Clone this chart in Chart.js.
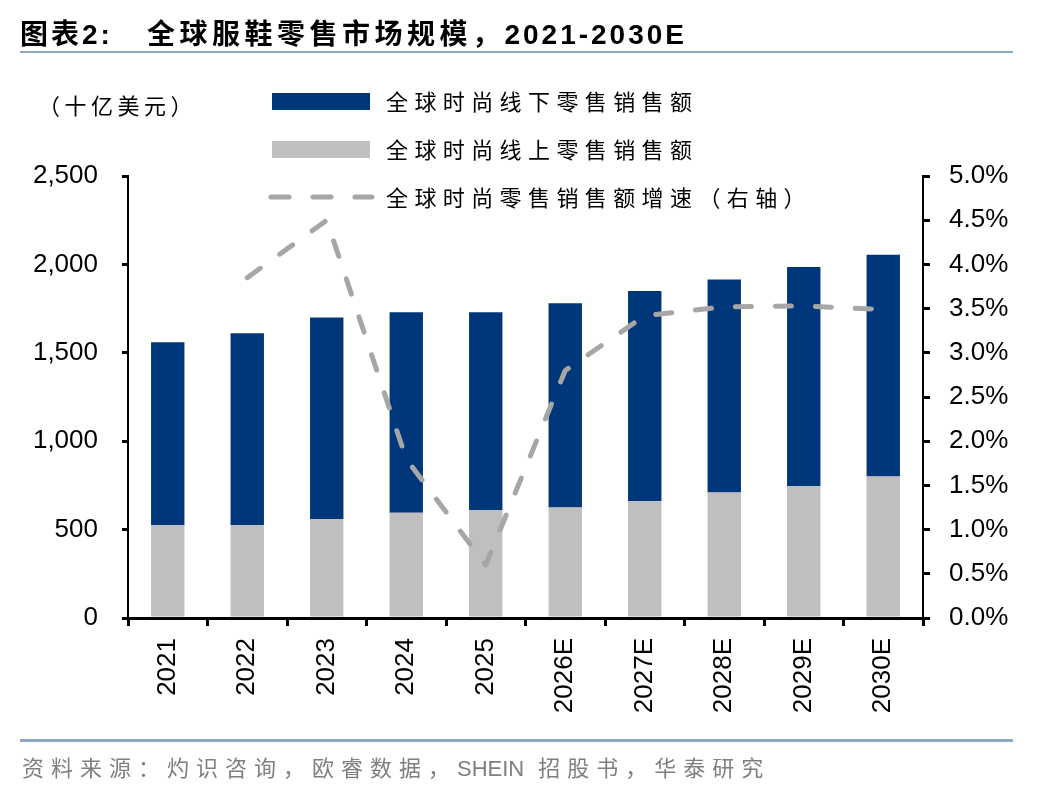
<!DOCTYPE html>
<html>
<head>
<meta charset="utf-8">
<script src="https://cdn.jsdelivr.net/npm/chart.js@4.4.1/dist/chart.umd.min.js"></script>
<style>
  html, body { margin: 0; padding: 0; background: #fff; }
  #wrap { position: relative; width: 1048px; height: 792px; overflow: hidden; }
  #chart { position: absolute; left: 0; top: 0; }
  .title {
    position: absolute; left: 20px; top: 12px; white-space: nowrap;
    font: bold 28px "Liberation Sans", "Noto Sans CJK SC", sans-serif;
    letter-spacing: 3px; color: #000;
  }
  .title .main { margin-left: 34px; }
  .title .cjk { letter-spacing: 4.5px; }
  .rule { position: absolute; left: 20px; width: 993px; background: #8fa8c4; }
  .unit {
    position: absolute; left: 38px; top: 88px; white-space: nowrap;
    font: 22px "Noto Sans CJK SC", sans-serif; letter-spacing: 4.5px; color: #000;
  }
  .source {
    position: absolute; left: 22px; top: 750px; white-space: nowrap;
    font: 22px "Liberation Sans", "Noto Sans CJK SC", sans-serif;
    letter-spacing: 7px; color: #7f7f7f;
  }
  .source .latin { letter-spacing: 0; margin-right: 14px; }
</style>
</head>
<body>
<div id="wrap">
  <canvas id="chart" width="1048" height="792"></canvas>
  <div class="title"><span>图表2:</span><span class="main"><span class="cjk">全球服鞋零售市场规模，</span>2021-2030E</span></div>
  <div class="rule" style="top:51px;height:2px;"></div>
  <div class="unit">（十亿美元）</div>
  <div class="rule" style="top:739px;height:3px;"></div>
  <div class="source">资料来源：灼识咨询，欧睿数据，<span class="latin">SHEIN</span>招股书，华泰研究</div>
</div>
<script>
const categories = ['2021', '2022', '2023', '2024', '2025', '2026E', '2027E', '2028E', '2029E', '2030E'];
const offlineSales = [1035, 1085, 1140, 1135, 1120, 1155, 1190, 1205, 1240, 1255];
const onlineSales = [525, 525, 560, 595, 610, 625, 660, 710, 745, 800];
const growthRate = [null, 3.85, 4.5, 1.8, 0.6, 2.8, 3.42, 3.52, 3.53, 3.49];
const leftTicks = [0, 500, 1000, 1500, 2000, 2500];
const rightTicks = [0, 0.5, 1.0, 1.5, 2.0, 2.5, 3.0, 3.5, 4.0, 4.5, 5.0];

const NAVY = '#00367a';
const LIGHT = '#bfbfbf';
const DASH = '#a6a6a6';
const tickFont = { family: '"Liberation Sans", Arial, sans-serif', size: 26 };

// legend drawn by hand, three rows stacked inside the top margin
function spacedText(ctx, text, x, y, gap) {
  for (const ch of text) {
    ctx.fillText(ch, x, y);
    x += ctx.measureText(ch).width + gap;
  }
}

const manualLegend = {
  id: 'manualLegend',
  afterDraw(chart) {
    const ctx = chart.ctx;
    const rows = [101, 149, 197];
    const order = [1, 0, 2]; // offline, online, growth
    ctx.save();
    ctx.font = '22px "Noto Sans CJK SC", sans-serif';
    ctx.textBaseline = 'middle';
    order.forEach((idx, i) => {
      const ds = chart.data.datasets[idx];
      const y = rows[i];
      if (ds.type === 'line') {
        ctx.strokeStyle = ds.borderColor;
        ctx.lineWidth = 5;
        ctx.lineCap = 'round';
        ctx.setLineDash([18, 24]);
        ctx.beginPath();
        ctx.moveTo(271, y);
        ctx.lineTo(372, y);
        ctx.stroke();
        ctx.setLineDash([]);
      } else {
        ctx.fillStyle = ds.backgroundColor;
        ctx.fillRect(272, y - 8, 98, 17);
      }
      ctx.fillStyle = '#000';
      spacedText(ctx, ds.label, 386, y + 1, 6.4);
    });
    ctx.restore();
  }
};

new Chart(document.getElementById('chart'), {
  type: 'bar',
  data: {
    labels: categories,
    datasets: [
      {
        label: '全球时尚线上零售销售额',
        data: onlineSales,
        backgroundColor: LIGHT,
        yAxisID: 'y',
        stack: 'sales',
        order: 1,
        barPercentage: 0.42,
        categoryPercentage: 1.0
      },
      {
        label: '全球时尚线下零售销售额',
        data: offlineSales,
        backgroundColor: NAVY,
        yAxisID: 'y',
        stack: 'sales',
        order: 1,
        barPercentage: 0.42,
        categoryPercentage: 1.0
      },
      {
        type: 'line',
        label: '全球时尚零售销售额增速（右轴）',
        data: growthRate,
        yAxisID: 'y1',
        borderColor: DASH,
        backgroundColor: DASH,
        borderWidth: 5,
        borderDash: [16, 24],
        borderCapStyle: 'round',
        borderJoinStyle: 'round',
        pointRadius: 0,
        tension: 0,
        order: 0
      }
    ]
  },
  options: {
    responsive: false,
    animation: false,
    devicePixelRatio: 1,
    layout: { padding: { top: 176, left: 0, right: 0, bottom: 0 } },
    plugins: {
      legend: { display: false },
      tooltip: { enabled: false }
    },
    scales: {
      x: {
        stacked: true,
        border: { color: '#000', width: 3 },
        grid: { offset: true, drawOnChartArea: false, color: '#000', lineWidth: 3, tickLength: 8 },
        ticks: { color: '#000', font: tickFont, minRotation: 90, maxRotation: 90, padding: 12 },
        afterFit(scale) { scale.height = 174; }
      },
      y: {
        stacked: true,
        position: 'left',
        min: 0,
        max: 2500,
        border: { color: '#000', width: 2 },
        grid: { drawOnChartArea: false, color: '#000', lineWidth: 3, tickLength: 6 },
        ticks: {
          color: '#000', font: tickFont, padding: 24,
          callback: v => v.toLocaleString('en-US')
        },
        afterBuildTicks(scale) { scale.ticks = leftTicks.map(v => ({ value: v })); },
        afterFit(scale) { scale.width = 128; }
      },
      y1: {
        position: 'right',
        min: 0,
        max: 5,
        border: { color: '#000', width: 2 },
        grid: { drawOnChartArea: false, color: '#000', lineWidth: 3, tickLength: 7 },
        ticks: {
          color: '#000', font: tickFont, padding: 19,
          callback: v => v.toFixed(1) + '%'
        },
        afterBuildTicks(scale) { scale.ticks = rightTicks.map(v => ({ value: v })); },
        afterFit(scale) { scale.width = 125; }
      }
    }
  },
  plugins: [manualLegend]
});
</script>
</body>
</html>
